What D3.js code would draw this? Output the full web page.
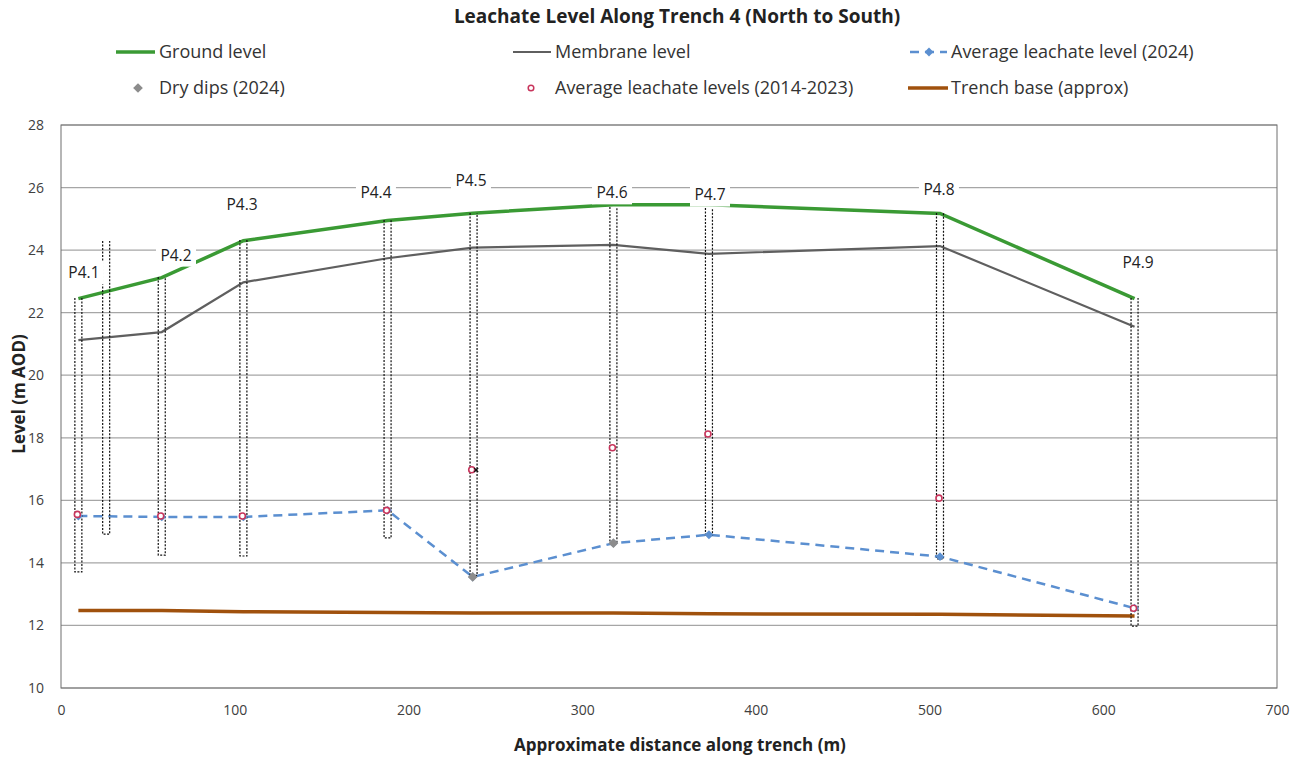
<!DOCTYPE html>
<html><head><meta charset="utf-8">
<script src="https://cdn.jsdelivr.net/npm/d3@7/dist/d3.min.js"></script>
<style>
html,body{margin:0;padding:0;background:#fff;}
svg{display:block;font-family:"Open Sans",sans-serif;}
</style></head>
<body><svg id="c" width="1308" height="757"></svg>
<script>
// ---- data ----
const wellNames = ["P4.1","P4.2","P4.3","P4.4","P4.5","P4.6","P4.7","P4.8","P4.9"];
const distance = [10, 58, 105, 188, 237, 318, 373, 506, 618];
const groundLevel = [22.45, 23.12, 24.3, 24.95, 25.18, 25.45, 25.45, 25.17, 22.45];
const membraneLevel = [21.12, 21.38, 22.97, 23.74, 24.08, 24.17, 23.88, 24.13, 21.55];
const avgLeachate2024 = [15.5, 15.47, 15.47, 15.68, 13.55, 14.63, 14.9, 14.2, 12.55];
const dryDipDistance = [237, 318];
const dryDips2024 = [13.55, 14.63];
const avgLeachate2014_2023 = [15.55, 15.5, 15.5, 15.68, 16.98, 17.68, 18.12, 16.07, 12.55];
const trenchBase = [12.48, 12.48, 12.44, 12.41, 12.40, 12.40, 12.37, 12.36, 12.30];
// well casings (dotted)
const wellX = [10, 26, 58, 105, 188, 237.5, 318, 373, 506, 618];
const wellTop = [22.47, 24.29, 23.14, 24.32, 24.96, 25.19, 25.38, 25.35, 25.19, 22.47];
const wellBottom = [13.71, 14.92, 14.25, 14.22, 14.8, 13.6, 14.64, 14.89, 14.13, 11.98];
// well label anchor (distance m, level m AOD)
const labelDistance = [13.2, 66.2, 104.2, 181.3, 236, 317.2, 373.6, 505.4, 620];
const labelLevel = [23.27, 23.84, 25.47, 25.83, 26.21, 25.83, 25.76, 25.92, 23.59];
const extraMarkX = [239], extraMarkY = [16.97];
const xTicks = [0,100,200,300,400,500,600,700];
const yTicks = [10,12,14,16,18,20,22,24,26,28];
const legendLabels = ["Ground level","Membrane level","Average leachate level (2024)","Dry dips (2024)","Average leachate levels (2014-2023)","Trench base (approx)"];

// ---- drawing ----
const svg = d3.select("#c");
const x = d3.scaleLinear().domain([0,700]).range([61,1277]);
const y = d3.scaleLinear().domain([10,28]).range([688,125]);
const C = {green:"#3a9a34", membrane:"#5f5f5f", blue:"#5b8fd0", gray:"#8c8c8c", red:"#c8355c", brown:"#a0510d", grid:"#a6a6a6"};

// gridlines
svg.append("g").selectAll("line").data(yTicks).join("line")
  .attr("x1",x(0)).attr("x2",x(700)).attr("y1",d=>y(d)).attr("y2",d=>y(d))
  .attr("stroke",C.grid).attr("stroke-width",1.2);
// frame
svg.append("rect").attr("x",x(0)).attr("y",y(28)).attr("width",x(700)-x(0)).attr("height",y(10)-y(28))
  .attr("fill","none").attr("stroke","#6e6e6e").attr("stroke-width",1);

// axes
const ya = svg.append("g").attr("transform",`translate(${x(0)},0)`)
  .call(d3.axisLeft(y).tickValues(yTicks).tickSize(0).tickPadding(17).tickFormat(d3.format("d")));
const xa = svg.append("g").attr("transform",`translate(0,${y(10)})`)
  .call(d3.axisBottom(x).tickValues(xTicks).tickSize(0).tickPadding(17).tickFormat(d3.format("d")));
[ya,xa].forEach(g=>{g.select(".domain").remove();
  g.selectAll("text").attr("font-family","Open Sans").attr("font-size",14).attr("fill","#404040");});

const idx = d3.range(distance.length);
const line = (arr)=>d3.line().x(i=>x(distance[i])).y(i=>y(arr[i]))(idx);

// series lines
svg.append("path").attr("d",line(trenchBase)).attr("fill","none").attr("stroke",C.brown).attr("stroke-width",3.5);
svg.append("path").attr("d",line(membraneLevel)).attr("fill","none").attr("stroke",C.membrane).attr("stroke-width",2.2);
svg.append("path").attr("d",line(groundLevel)).attr("fill","none").attr("stroke",C.green).attr("stroke-width",3.5);
svg.append("path").attr("d",line(avgLeachate2024)).attr("fill","none").attr("stroke",C.blue).attr("stroke-width",2.5).attr("stroke-dasharray","9,6");

// well casings (open-topped dotted outlines)
svg.append("g").selectAll("path").data(d3.range(wellX.length)).join("path")
  .attr("d",i=>{const l=x(wellX[i])-3.5, r=x(wellX[i])+3.5, t=y(wellTop[i]), b=y(wellBottom[i]);
    return `M${l},${t}V${b}H${r}V${t}`;})
  .attr("fill","none").attr("stroke","#111").attr("stroke-width",1.2).attr("stroke-dasharray","2,1.5");

// markers
const diamond = d3.symbol().type(d3.symbolDiamond2);
svg.append("g").selectAll("path").data(idx).join("path")
  .attr("d",diamond.size(50)()).attr("transform",i=>`translate(${x(distance[i])},${y(avgLeachate2024[i])})`)
  .attr("fill",C.blue);
svg.append("g").selectAll("path").data(d3.range(dryDips2024.length)).join("path")
  .attr("d",diamond.size(60)()).attr("transform",i=>`translate(${x(dryDipDistance[i])},${y(dryDips2024[i])})`)
  .attr("fill",C.gray);
svg.append("g").selectAll("circle").data(idx).join("circle")
  .attr("cx",i=>x(distance[i])-1).attr("cy",i=>y(avgLeachate2014_2023[i])).attr("r",3)
  .attr("fill","#fff").attr("stroke",C.red).attr("stroke-width",1.6);
svg.append("g").selectAll("path").data(d3.range(extraMarkX.length)).join("path")
  .attr("d",d3.symbol().type(d3.symbolX).size(12)()).attr("transform",i=>`translate(${x(extraMarkX[i])},${y(extraMarkY[i])})`)
  .attr("stroke","#111").attr("stroke-width",1.2).attr("fill","none");

// well labels with white boxes
const lg = svg.append("g").selectAll("g").data(wellNames).join("g")
  .attr("transform",(d,i)=>`translate(${x(labelDistance[i])},${y(labelLevel[i])})`);
lg.append("rect").attr("x",-20).attr("y",-11.5).attr("width",40).attr("height",23).attr("fill","#fff");
lg.append("text").text(d=>d).attr("text-anchor","middle").attr("dy","0.35em")
  .attr("font-size",15.5).attr("fill","#222");

// title & axis titles
svg.append("text").attr("x",677).attr("y",23).attr("text-anchor","middle")
  .attr("font-weight","bold").attr("font-size",19).attr("fill","#222")
  .text("Leachate Level Along Trench 4 (North to South)");
svg.append("text").attr("x",680).attr("y",751).attr("text-anchor","middle")
  .attr("font-weight","bold").attr("font-size",17).attr("fill","#222")
  .text("Approximate distance along trench (m)");
svg.append("text").attr("transform","translate(25,394) rotate(-90)").attr("text-anchor","middle")
  .attr("font-weight","bold").attr("font-size",17).attr("fill","#222")
  .text("Level (m AOD)");

// legend
const leg = svg.append("g").attr("font-size",18).attr("fill","#333");
const ly1 = 52, ly2 = 88;
const textX = [159, 555, 951, 159, 555, 951];
const textY = [ly1, ly1, ly1, ly2, ly2, ly2];
legendLabels.forEach((t,i)=>leg.append("text").attr("x",textX[i]).attr("y",textY[i]).attr("dy","0.35em").attr("fill","#333").text(t));
leg.append("line").attr("x1",116).attr("x2",155).attr("y1",ly1).attr("y2",ly1).attr("stroke",C.green).attr("stroke-width",3.5);
leg.append("line").attr("x1",513).attr("x2",551).attr("y1",ly1).attr("y2",ly1).attr("stroke",C.membrane).attr("stroke-width",2.2);
leg.append("line").attr("x1",910).attr("x2",947).attr("y1",ly1).attr("y2",ly1).attr("stroke",C.blue).attr("stroke-width",2.5).attr("stroke-dasharray","9,6");
leg.append("path").attr("d",diamond.size(50)()).attr("transform",`translate(929,${ly1})`).attr("fill",C.blue);
leg.append("path").attr("d",diamond.size(60)()).attr("transform",`translate(138,${ly2})`).attr("fill",C.gray);
leg.append("circle").attr("cx",531).attr("cy",ly2).attr("r",2.8).attr("fill","#fff").attr("stroke",C.red).attr("stroke-width",1.5);
leg.append("line").attr("x1",908).attr("x2",948).attr("y1",ly2).attr("y2",ly2).attr("stroke",C.brown).attr("stroke-width",3.5);
</script></body></html>
